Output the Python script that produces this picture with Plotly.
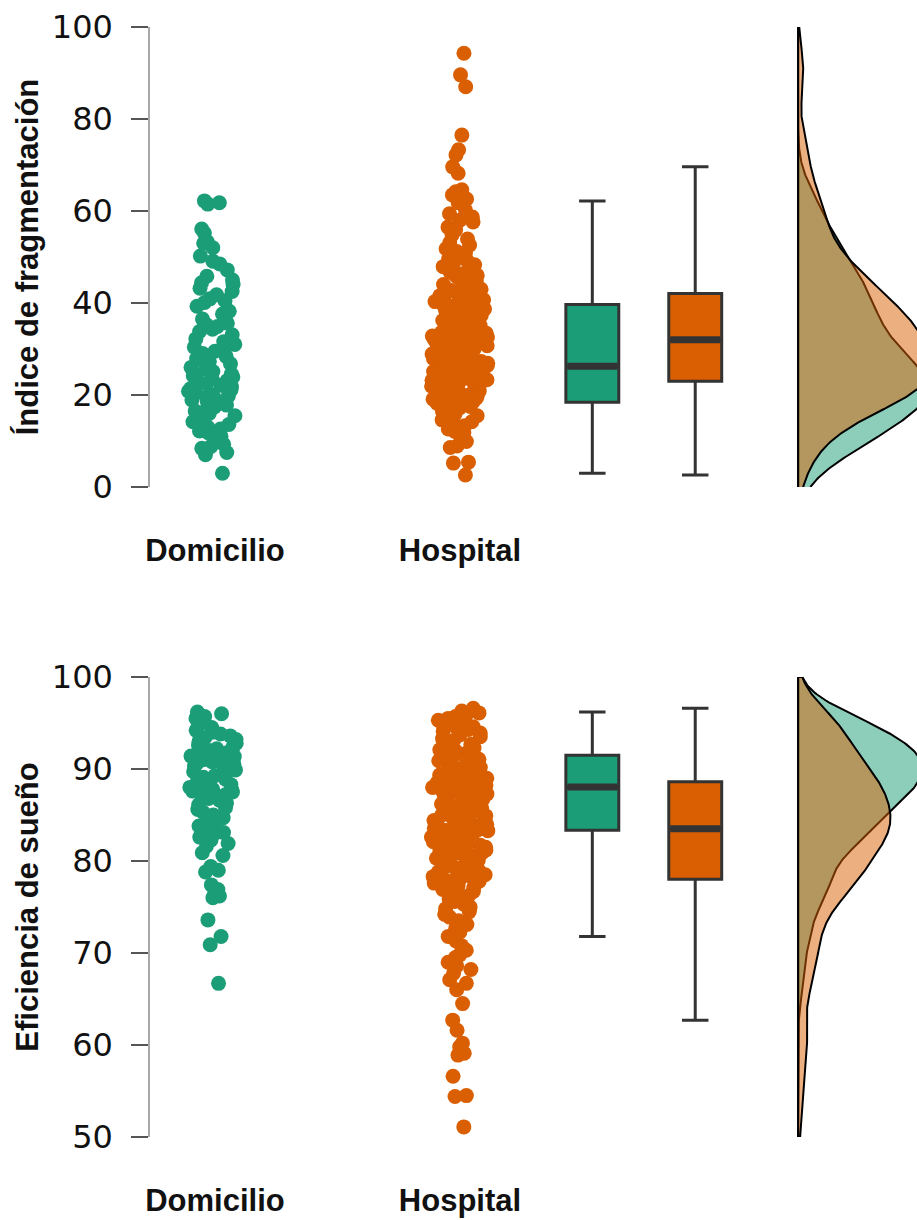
import numpy as np
import plotly.graph_objects as go

# ---------------- data ----------------
groups = ["Domicilio", "Hospital"]
colors = {"Domicilio": "#1b9e77", "Hospital": "#d95f02"}
dens_fill = {"Domicilio": "rgba(27,158,119,0.5)", "Hospital": "rgba(217,95,2,0.5)"}

frag_domicilio = [
    62.2, 61.8, 61.5, 56.1, 55.2, 53.3, 53.0, 52.0, 50.2, 49.1, 48.5, 47.2, 45.8, 45.0, 44.4, 44.0,
    43.2, 42.5, 41.8, 40.9, 40.5, 40.1,
    39.3, 38.2, 37.6, 36.5, 35.6, 35.2, 34.9, 34.3, 33.8, 33.1, 32.2, 31.6, 31.0, 30.4, 30.0, 29.5,
    29.0, 28.4, 27.9, 27.3, 26.8, 26.5,
    26.0, 25.6, 25.1, 24.6, 24.2, 23.9, 23.5, 23.1, 22.8, 22.5, 22.1, 21.8, 21.4, 21.1, 20.8, 20.5,
    20.1, 19.8, 19.5, 19.2, 18.9, 18.6,
    18.2, 17.8, 17.4, 17.0, 16.5, 16.0, 15.5, 14.8, 14.2, 13.6, 13.0, 12.6, 12.2, 11.8, 11.0, 10.2,
    9.3, 8.8, 8.4, 7.5, 7.0, 3.0,
]
frag_hospital = [
    94.3, 89.6, 87.0, 76.5, 73.3, 72.2, 69.6, 68.2, 64.6, 64.2, 63.5, 62.6, 61.8, 60.2,
    59.4, 58.7, 58.0, 57.6, 56.5, 55.9, 54.8, 53.9, 53.1, 52.6, 51.8, 51.2, 50.9, 50.3,
    49.6, 49.2, 48.7, 48.3, 47.9, 47.5, 47.1, 46.7, 46.4, 46.0, 45.7, 45.4, 45.1, 44.8, 44.4, 44.0,
    43.6, 43.3, 43.0, 42.7, 42.4, 42.2,
    41.9, 41.6, 41.4, 41.2, 40.9, 40.7, 40.5, 40.3, 40.0, 39.8, 39.6, 39.3, 39.1, 38.9, 38.7, 38.4,
    38.2, 38.0, 37.8, 37.5, 37.3, 37.1, 36.9, 36.6, 36.4, 36.2, 36.0, 35.8, 35.5, 35.3, 35.1, 34.9,
    34.7, 34.4, 34.2, 34.0, 33.8, 33.6, 33.4, 33.2, 33.0, 32.9, 32.8, 32.7, 32.6, 32.5, 32.4, 32.3,
    32.2, 32.1,
    31.9, 31.6, 31.5, 31.2, 31.1, 30.8, 30.7, 30.5, 30.2, 30.1, 29.9, 29.6, 29.5, 29.3, 29.0, 28.9,
    28.7, 28.4, 28.3, 28.1, 27.9, 27.6, 27.5, 27.3, 27.0, 26.9, 26.7, 26.4, 26.3, 26.1, 25.9, 25.7,
    25.4, 25.3, 25.1, 24.8, 24.7, 24.5, 24.3, 24.1, 23.9, 23.8, 23.6, 23.6, 23.5, 23.3, 23.3, 23.2,
    23.1, 23.05,
    22.9, 22.7, 22.6, 22.4, 22.2, 22.1, 21.9, 21.7, 21.5, 21.3, 21.1, 20.9, 20.7, 20.5, 20.3, 20.1,
    19.9, 19.7, 19.5, 19.3, 19.1, 18.9, 18.8, 18.6, 18.5, 18.3, 18.2, 18.0, 17.8, 17.5, 17.2, 16.8,
    16.4, 15.9, 15.5, 15.1, 14.6, 14.2, 13.8, 13.3, 12.6, 12.1, 11.8, 11.5, 9.9, 8.9, 8.6, 5.4,
    5.2, 2.6,
]
efic_domicilio = [
    66.7, 70.9, 71.8, 73.6, 76.0, 76.2, 76.5, 76.9, 77.4, 78.8, 79.0, 79.4, 80.6, 80.9, 81.6, 81.9,
    82.3, 82.6, 82.8, 83.0, 83.1, 83.2,
    83.5, 83.8, 84.1, 84.4, 84.7, 85.0, 85.3, 85.6, 85.8, 86.1, 86.3, 86.6, 86.8, 87.0, 87.2, 87.4,
    87.5, 87.6, 87.7, 87.8, 87.9, 88.0,
    88.1, 88.3, 88.5, 88.7, 88.9, 89.1, 89.3, 89.5, 89.7, 89.9, 90.1, 90.3, 90.5, 90.6, 90.8, 90.9,
    91.0, 91.1, 91.2, 91.3, 91.35, 91.4,
    91.6, 91.8, 92.0, 92.2, 92.4, 92.6, 92.8, 93.0, 93.2, 93.4, 93.6, 93.8, 94.0, 94.2, 94.5, 94.8,
    95.1, 95.3, 95.5, 95.7, 96.0, 96.2,
]
efic_hospital = [
    51.1, 54.4, 54.5, 56.6, 58.9, 59.1, 59.8, 60.2, 61.6, 62.7, 64.5, 66.0, 66.7, 67.1, 67.8, 68.2,
    68.6, 69.0, 69.5, 69.8, 70.3, 70.8, 71.3, 71.8, 72.3, 72.7, 73.1, 73.5, 73.9, 74.2, 74.5, 74.8,
    75.0, 75.3, 75.6, 75.9, 76.2, 76.5, 76.7, 76.9, 77.1, 77.3, 77.4, 77.6, 77.7, 77.8, 77.9, 77.95,
    77.98, 77.99,
    78.05, 78.2, 78.3, 78.5, 78.6, 78.8, 78.9, 79.1, 79.2, 79.4, 79.5, 79.7, 79.8, 80.0, 80.1, 80.3,
    80.4, 80.5, 80.7, 80.8, 80.9, 81.1, 81.2, 81.3, 81.5, 81.6, 81.7, 81.8, 82.0, 82.1, 82.2, 82.3,
    82.4, 82.5, 82.6, 82.7, 82.8, 82.9, 83.0, 83.1, 83.15, 83.2, 83.25, 83.3, 83.33, 83.36, 83.4,
    83.43, 83.46, 83.48,
    83.55, 83.7, 83.8, 83.9, 84.0, 84.2, 84.3, 84.4, 84.5, 84.6, 84.8, 84.9, 85.0, 85.1, 85.2, 85.3,
    85.4, 85.5, 85.6, 85.7, 85.8, 85.9, 86.0, 86.1, 86.2, 86.3, 86.4, 86.5, 86.6, 86.7, 86.8, 86.9,
    87.0, 87.1, 87.2, 87.3, 87.4, 87.5, 87.6, 87.7, 87.8, 87.9, 88.0, 88.1, 88.2, 88.3, 88.4, 88.45,
    88.5, 88.55,
    88.7, 88.8, 88.9, 89.0, 89.1, 89.2, 89.35, 89.5, 89.6, 89.75, 89.9, 90.0, 90.15, 90.3, 90.45,
    90.6, 90.75, 90.9, 91.05, 91.2, 91.35, 91.5, 91.65, 91.8, 91.95, 92.1, 92.3, 92.5, 92.7, 92.9,
    93.1, 93.3, 93.5, 93.7, 93.9, 94.1, 94.3, 94.5, 94.6, 94.7, 94.9, 95.1, 95.3, 95.3, 95.5, 95.7,
    95.9, 96.1, 96.3, 96.6,
]

panels = [
    dict(title="Índice de fragmentación", data={"Domicilio": frag_domicilio, "Hospital": frag_hospital},
         yrange=[0, 100], ticks=[0, 20, 40, 60, 80, 100], dens_px=130),
    dict(title="Eficiencia de sueño", data={"Domicilio": efic_domicilio, "Hospital": efic_hospital},
         yrange=[50, 100], ticks=[50, 60, 70, 80, 90, 100], dens_px=124),
]

# ---------------- layout constants ----------------
W, H = 917, 1220
PX_PER_UNIT = 245.0
strip_pos = {"Domicilio": 1.0, "Hospital": 2.0}
box_pos = {"Domicilio": 2.54, "Hospital": 2.96}
dens_base = 3.38
xrange_ = [0.735, 3.865]
box_w = 0.216
strip_w = 0.235
y_domains = [[1 - 487 / H, 1 - 27 / H], [1 - 1137 / H, 1 - 677 / H]]


def kde(vals, grid):
    v = np.asarray(vals, float)
    n = v.size
    sd = v.std(ddof=1)
    q75, q25 = np.percentile(v, [75, 25])
    bw = 0.9 * min(sd, (q75 - q25) / 1.34) * n ** (-0.2)
    z = (grid[:, None] - v[None, :]) / bw
    return np.exp(-0.5 * z ** 2).sum(axis=1) / (n * bw * np.sqrt(2 * np.pi))


fig = go.Figure()
for pi, p in enumerate(panels):
    xa = "x" if pi == 0 else "x2"
    ya = "y" if pi == 0 else "y2"
    grid = np.linspace(p["yrange"][0], p["yrange"][1], 400)
    dens = {g: kde(p["data"][g], grid) for g in groups}
    dmax = max(d.max() for d in dens.values())
    scale = (p["dens_px"] / PX_PER_UNIT) / dmax

    # jittered points
    for g in groups:
        fig.add_trace(go.Box(
            y=p["data"][g], x0=strip_pos[g], width=strip_w, boxpoints="all", jitter=1, pointpos=0,
            fillcolor="rgba(0,0,0,0)", line=dict(color="rgba(0,0,0,0)", width=0),
            marker=dict(color=colors[g], size=15, opacity=1, line=dict(width=0)),
            showlegend=False, hoverinfo="y", xaxis=xa, yaxis=ya))
    # boxplots (Tukey whiskers, outlier markers hidden)
    for g in groups:
        fig.add_trace(go.Box(
            y=p["data"][g], x0=box_pos[g], width=box_w, boxpoints="outliers",
            marker=dict(size=0.1, opacity=0, color="rgba(0,0,0,0)"),
            fillcolor=colors[g], line=dict(color="#333333", width=3), whiskerwidth=0.5,
            showlegend=False, xaxis=xa, yaxis=ya))
        med = float(np.median(p["data"][g]))
        fig.add_trace(go.Scatter(
            x=[box_pos[g] - box_w / 2 + 0.006, box_pos[g] + box_w / 2 - 0.006], y=[med, med],
            mode="lines", line=dict(color="#333333", width=7), showlegend=False,
            hoverinfo="skip", xaxis=xa, yaxis=ya))
    # half densities
    for g in groups:
        xs = np.concatenate([dens_base + dens[g] * scale, [dens_base, dens_base]])
        ys = np.concatenate([grid, [grid[-1], grid[0]]])
        fig.add_trace(go.Scatter(
            x=xs, y=ys, mode="lines", fill="toself", fillcolor=dens_fill[g],
            line=dict(color="black", width=2), showlegend=False, hoverinfo="skip",
            xaxis=xa, yaxis=ya))

xaxis_common = dict(
    range=xrange_, domain=[150 / W, 1], showline=False, showgrid=False, zeroline=False,
    automargin=False,
    tickvals=[strip_pos[g] for g in groups], ticktext=groups,
    tickfont=dict(family="Liberation Sans, Arial", size=31, color="#111", weight="bold"),
    ticks="outside", ticklen=36, tickcolor="rgba(0,0,0,0)",
)


def yaxis_common(p, dom):
    return dict(
        range=p["yrange"], domain=dom, tickvals=p["ticks"], showgrid=False, zeroline=False,
        automargin=False,
        showline=True, linecolor="#a8a8a8", linewidth=1.5,
        ticks="outside", ticklen=17, tickwidth=2, tickcolor="#555555",
        tickfont=dict(family="DejaVu Sans", size=32, color="#111"), ticklabelstandoff=12,
        title=dict(text=p["title"], standoff=4,
                   font=dict(family="Liberation Sans, Arial", size=31, color="#111", weight="bold")),
    )


fig.update_layout(
    width=W, height=H, margin=dict(l=0, r=0, t=0, b=0, autoexpand=False),
    paper_bgcolor="white", plot_bgcolor="white", boxmode="overlay", showlegend=False,
    xaxis=dict(anchor="y", **xaxis_common),
    yaxis=dict(anchor="x", **yaxis_common(panels[0], y_domains[0])),
    xaxis2=dict(anchor="y2", **xaxis_common),
    yaxis2=dict(anchor="x2", **yaxis_common(panels[1], y_domains[1])),
)

fig.write_html("out.html")
